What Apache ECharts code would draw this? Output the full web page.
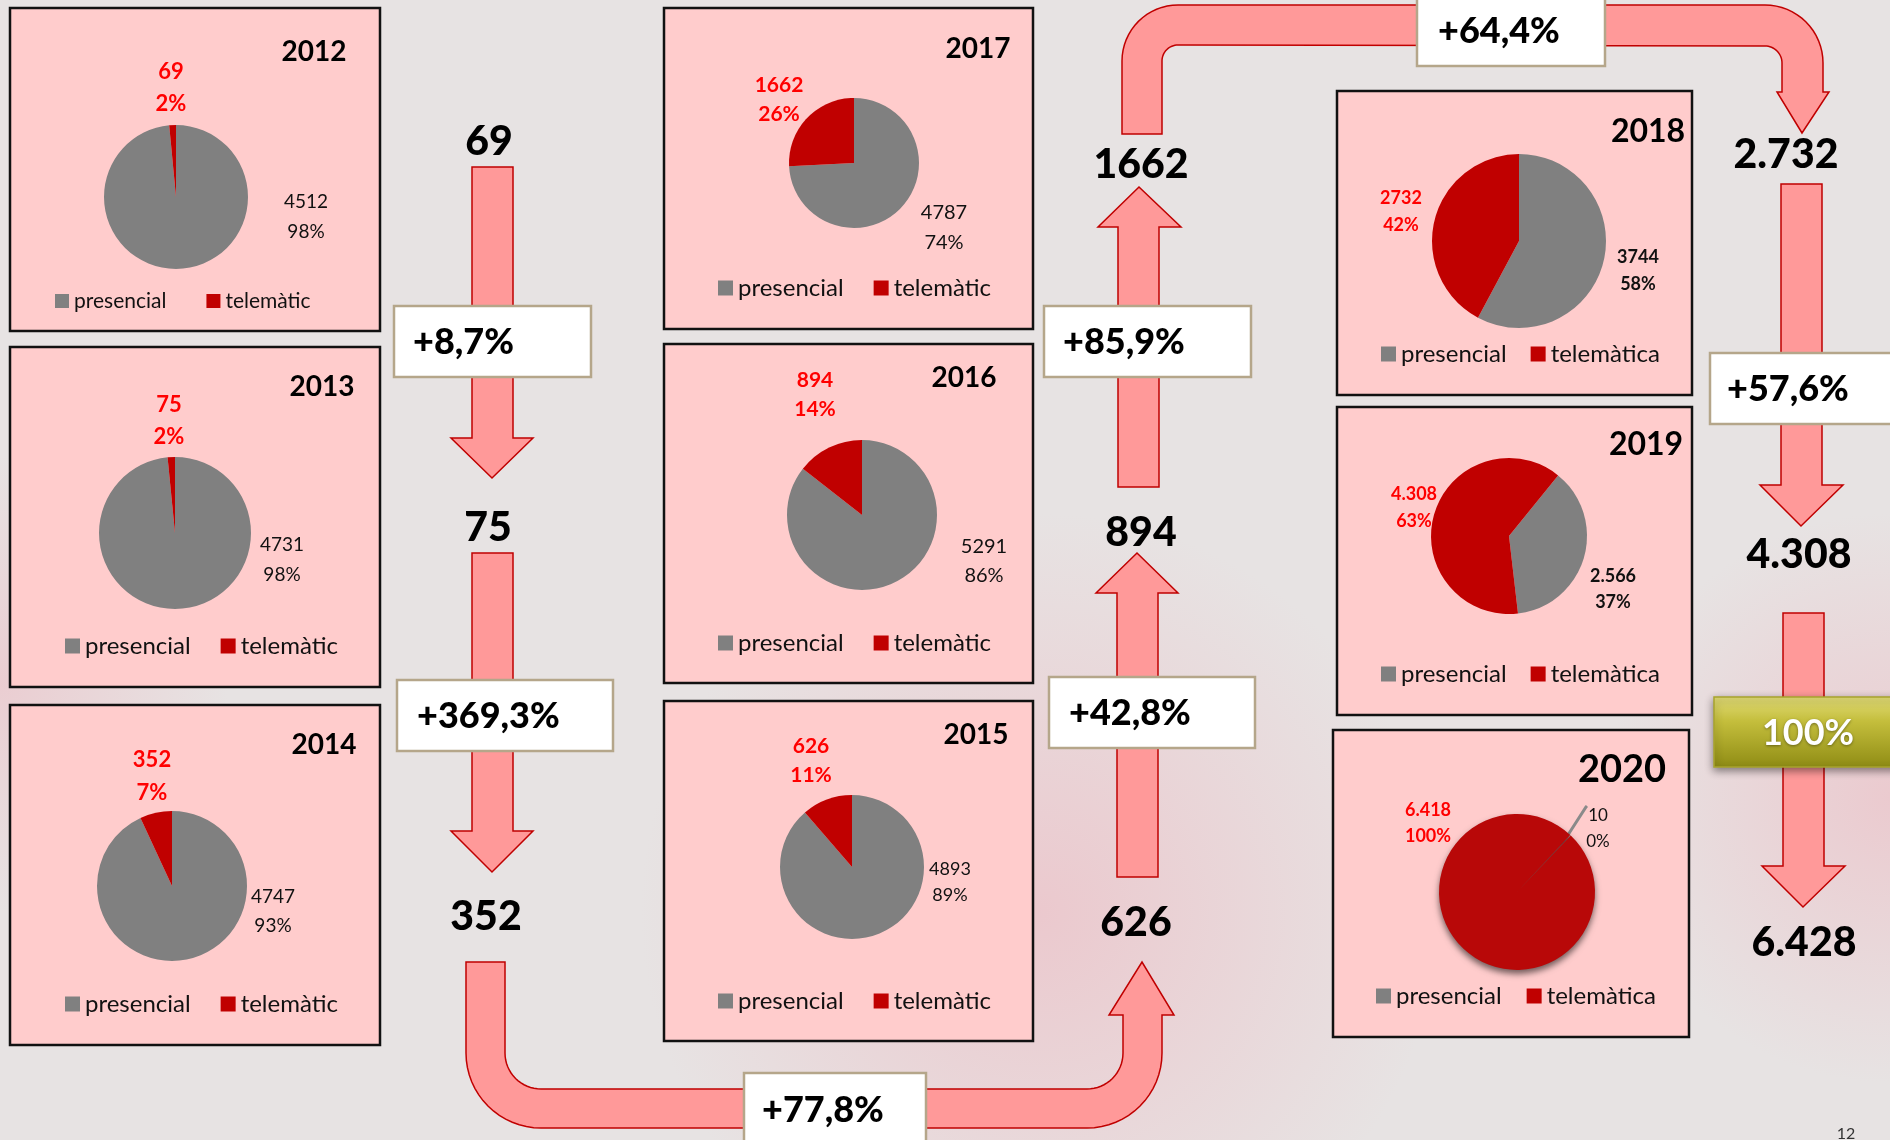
<!DOCTYPE html>
<html>
<head>
<meta charset="utf-8">
<title>Sol·licituds presencials i telemàtiques 2012-2020</title>
<script src="https://cdn.jsdelivr.net/npm/echarts@6/dist/echarts.min.js"></script>
<style>
  html, body { margin: 0; padding: 0; }
  #chart { width: 1890px; height: 1140px; }
</style>
</head>
<body>
<div id="chart"></div>
<script>
// data
const years = [2012, 2013, 2014, 2015, 2016, 2017, 2018, 2019, 2020]
const presencial = [4512, 4731, 4747, 4893, 5291, 4787, 3744, 2566, 10]
const telematic = [69, 75, 352, 626, 894, 1662, 2732, 4308, 6418]
const telematicName = ['telemàtic', 'telemàtic', 'telemàtic', 'telemàtic', 'telemàtic', 'telemàtic', 'telemàtica', 'telemàtica', 'telemàtica']
const changeLabels = ['+8,7%', '+369,3%', '+77,8%', '+42,8%', '+85,9%', '+64,4%', '+57,6%', '100%']

const FONT = 'Lato'

// layout of each year panel (box, pie, label spots, title, legend)
const panels = [
  { box: [10, 8, 370, 323], c: [176, 197], r: 72, start: 90, red: [171, 88], gray: [306, 217], rs: 22, gs: 19, rlh: 32, glh: 30, title: [314, 52, 28], lg: [50, 301, 21, 40, 14] },
  { box: [10, 347, 370, 340], c: [175, 533], r: 76, start: 90, red: [169, 421], gray: [282, 560], rs: 22, gs: 19, rlh: 32, glh: 30, title: [322, 387, 28], lg: [60, 646, 24, 30, 15] },
  { box: [10, 705, 370, 340], c: [172, 886], r: 75, start: 90, red: [152, 776], gray: [273, 911], rs: 22, gs: 19, rlh: 33, glh: 29, title: [324, 745, 28], lg: [60, 1004, 24, 30, 15] },
  { box: [664, 701, 369, 340], c: [852, 867], r: 72, start: 90, red: [811, 761], gray: [950, 882], rs: 21, gs: 18, rlh: 29, glh: 26, title: [976, 735, 28], lg: [713, 1001, 24, 30, 15] },
  { box: [664, 344, 369, 339], c: [862, 515], r: 75, start: 90, red: [815, 395], gray: [984, 561], rs: 21, gs: 20, rlh: 29, glh: 29, title: [964, 378, 28], lg: [713, 643, 24, 30, 15] },
  { box: [664, 8, 369, 321], c: [854, 163], r: 65, start: 90, red: [779, 100], gray: [944, 228], rs: 21, gs: 20, rlh: 29, glh: 30, title: [978, 49, 28], lg: [713, 288, 24, 30, 15] },
  { box: [1337, 91, 355, 304], c: [1519, 241], r: 87, start: 90, red: [1401, 212], gray: [1638, 271], rs: 18, gs: 18, gb: true, rlh: 27, glh: 27, title: [1648, 132, 32], lg: [1376, 354, 24, 24, 15] },
  { box: [1337, 407, 355, 308], c: [1509, 536], r: 78, start: 51, red: [1414, 508], gray: [1613, 589], rs: 18, gs: 18, gb: true, rlh: 27, glh: 26, title: [1646, 445, 32], lg: [1376, 674, 24, 24, 15] },
  { box: [1333, 730, 356, 307], c: [1517, 892], r: 78, start: 47, red: [1428, 823], gray: [1598, 829], rs: 18, gs: 17, rlh: 26, glh: 26, title: [1622, 770, 38], lg: [1371, 996, 24, 25, 15],
    leader: [[1566, 838], [1586, 807], [1587, 806]] }
]

// flow numbers along the arrows and the change boxes
const flowPos = [[489, 142], [488, 528], [486, 917], [1136, 923], [1141, 533], [1141, 165], [1786, 155], [1799, 555], [1804, 943]]
const changeBoxes = [
  [394, 306, 197, 71, 413], [397, 680, 216, 71, 417], [744, 1073, 182, 80, 762], [1049, 677, 206, 71, 1069],
  [1044, 306, 207, 71, 1063], [1417, -5, 188, 71, 1438], [1710, 353, 190, 71, 1727], [1714, 697, 190, 70, 0]
]

function fmt (v, dots) {
  const s = String(v)
  return dots ? s.replace(/\B(?=(\d{3})+(?!\d))/g, '.') : s
}

// points along a circular arc (degrees, screen y down)
function arc (pts, cx, cy, r, a0, a1) {
  const n = 16
  for (let k = 0; k <= n; k++) {
    const a = (a0 + (a1 - a0) * k / n) * Math.PI / 180
    pts.push([cx + r * Math.cos(a), cy + r * Math.sin(a)])
  }
  return pts
}

const chart = echarts.init(document.getElementById('chart'))

// pies
const series = years.map((y, i) => {
  const P = panels[i]
  const dots = y >= 2019
  const is2020 = y === 2020
  return {
    type: 'pie',
    center: P.c,
    radius: P.r,
    startAngle: P.start,
    clockwise: true,
    percentPrecision: 0,
    avoidLabelOverlap: false,
    silent: true,
    label: {
      show: true,
      fontFamily: FONT,
      formatter: p => fmt(p.value, dots) + '\n' + p.percent + '%'
    },
    labelLine: { show: false },
    labelLayout: p => {
      const pt = p.dataIndex === 0 ? P.gray : P.red
      const res = { x: pt[0], y: pt[1], align: 'center', verticalAlign: 'middle' }
      if (P.leader && p.dataIndex === 0) res.labelLinePoints = P.leader
      return res
    },
    data: [
      {
        name: 'presencial',
        value: presencial[i],
        itemStyle: { color: '#808080' },
        label: { color: '#111', fontSize: P.gs, fontWeight: P.gb ? 'bold' : 'normal', lineHeight: P.glh },
        labelLine: P.leader ? { show: true, lineStyle: { color: '#8a8a8a', width: 3 } } : { show: false }
      },
      {
        name: telematicName[i],
        value: telematic[i],
        itemStyle: is2020
          ? {
              color: '#b80808',
              shadowBlur: 6,
              shadowOffsetY: 4,
              shadowColor: 'rgba(0,0,0,0.55)'
            }
          : { color: '#c00000' },
        label: { color: '#ff0000', fontSize: P.rs, fontWeight: 'bold', lineHeight: P.rlh }
      }
    ]
  }
})

// one legend per panel
const legends = panels.map((P, i) => ({
  data: ['presencial', telematicName[i]],
  left: P.lg[0],
  top: P.lg[1] - P.lg[2] / 2 - 5,
  icon: 'rect',
  itemWidth: P.lg[4],
  itemHeight: P.lg[4],
  itemGap: P.lg[3],
  selectedMode: false,
  textStyle: { fontFamily: FONT, fontSize: P.lg[2], color: '#111' }
}))

const ARROW = { fill: '#ff9999', stroke: '#c00000', lineWidth: 1.5 }

function txt (x, y, text, size, opt) {
  opt = opt || {}
  return {
    type: 'text',
    x: x,
    y: y,
    style: {
      text: text,
      fontFamily: FONT,
      fontSize: size,
      fontWeight: opt.weight || 'bold',
      fill: opt.fill || '#000',
      align: opt.align || 'center',
      textAlign: opt.align || 'center',
      verticalAlign: 'middle',
      textVerticalAlign: 'middle',
      textShadowColor: opt.shadow || 'transparent',
      textShadowBlur: opt.shadow ? 3 : 0,
      textShadowOffsetY: opt.shadow ? 1 : 0
    }
  }
}

const graphics = []

// backdrop
const glow = [[0.55, 0.8, 0.35, 0.85], [1, 0.7, 0.25, 0.8], [0, 0.6, 0.2, 0.7]]
glow.forEach(g => {
  graphics.push({
    type: 'rect',
    shape: { x: 0, y: 0, width: 1890, height: 1140 },
    style: {
      fill: {
        type: 'radial', x: g[0], y: g[1], r: g[2],
        colorStops: [
          { offset: 0, color: 'rgba(236,196,202,' + g[3] + ')' },
          { offset: 1, color: 'rgba(236,196,202,0)' }
        ]
      }
    }
  })
})

// year panels
panels.forEach((P, i) => {
  graphics.push({
    type: 'rect',
    shape: { x: P.box[0], y: P.box[1], width: P.box[2], height: P.box[3] },
    style: { fill: '#ffcccc', stroke: '#111', lineWidth: 2.5 }
  })
  graphics.push(txt(P.title[0], P.title[1], String(years[i]), P.title[2]))
})

// arrows
const straight = [
  // [shaftX0, shaftX1, shaftEnd, headBase, headX0, headX1, tipX, tipY]
  [472, 513, 167, 438, 451, 533, 492, 478],
  [472, 513, 553, 831, 451, 533, 492, 872],
  [1117, 1158, 877, 593, 1096, 1178, 1137, 553],
  [1118, 1159, 487, 227, 1098, 1181, 1139, 187],
  [1781, 1822, 184, 485, 1760, 1843, 1801, 526],
  [1783, 1824, 613, 866, 1762, 1845, 1803, 907]
]
straight.forEach(a => {
  graphics.push({
    type: 'polygon',
    shape: {
      points: [[a[0], a[2]], [a[1], a[2]], [a[1], a[3]], [a[5], a[3]], [a[6], a[7]], [a[4], a[3]], [a[0], a[3]]]
    },
    style: ARROW
  })
})

// bottom U turn 352 -> 626
let u = [[466, 962], [505, 962]]
arc(u, 541, 1053, 36, 180, 90)
arc(u, 1087, 1053, 36, 90, 0)
u.push([1123, 1015], [1109, 1015], [1142, 962], [1174, 1015], [1162, 1015])
arc(u, 1087, 1053, 75, 0, 90)
arc(u, 541, 1053, 75, 90, 180)
graphics.push({ type: 'polygon', shape: { points: u }, style: ARROW })

// top turn 1662 -> 2.732
let t = [[1122, 134]]
arc(t, 1178, 61, 56, 180, 270)
arc(t, 1765, 63, 58, 270, 360)
t.push([1823, 92], [1829, 92], [1802, 133], [1777, 92], [1782, 92])
arc(t, 1765, 63, 17, 360, 270)
arc(t, 1178, 61, 16, 270, 180)
t.push([1162, 134])
graphics.push({ type: 'polygon', shape: { points: t }, style: ARROW })

// flow numbers: telematic count per year, total for the last one
const flowValues = telematic.map((v, i) => i === telematic.length - 1 ? v + presencial[i] : v)
flowValues.forEach((v, i) => {
  graphics.push(txt(flowPos[i][0], flowPos[i][1], fmt(v, years[i] >= 2018), 41, { weight: 900 }))
})

// change boxes
changeLabels.forEach((lab, i) => {
  const b = changeBoxes[i]
  if (i === changeLabels.length - 1) {
    graphics.push({
      type: 'rect',
      shape: { x: b[0], y: b[1], width: b[2], height: b[3] },
      style: {
        fill: {
          type: 'linear', x: 0, y: 0, x2: 0, y2: 1,
          colorStops: [
            { offset: 0, color: '#e2dc78' },
            { offset: 0.35, color: '#c4be3c' },
            { offset: 1, color: '#8f8c14' }
          ]
        },
        stroke: '#a8a42c',
        lineWidth: 1.5,
        shadowBlur: 8,
        shadowOffsetY: 3,
        shadowColor: 'rgba(0,0,0,0.45)'
      }
    })
    graphics.push(txt(1808, b[1] + b[3] / 2 + 1, lab, 36, { fill: '#fff', shadow: 'rgba(0,0,0,0.4)' }))
  } else {
    graphics.push({
      type: 'rect',
      shape: { x: b[0], y: b[1], width: b[2], height: b[3] },
      style: { fill: '#fff', stroke: '#b5a68a', lineWidth: 2.5 }
    })
    const ty = i === 2 ? 1110 : b[1] + b[3] / 2 + 1
    graphics.push(txt(b[4], ty, lab, 36, { align: 'left', weight: 900 }))
  }
})

// slide number
graphics.push(txt(1846, 1134, '12', 16, { weight: 'normal', fill: '#333' }))

chart.setOption({
  animation: false,
  backgroundColor: '#e7e3e3',
  legend: legends,
  graphic: { elements: graphics },
  series: series
})
</script>
</body>
</html>
